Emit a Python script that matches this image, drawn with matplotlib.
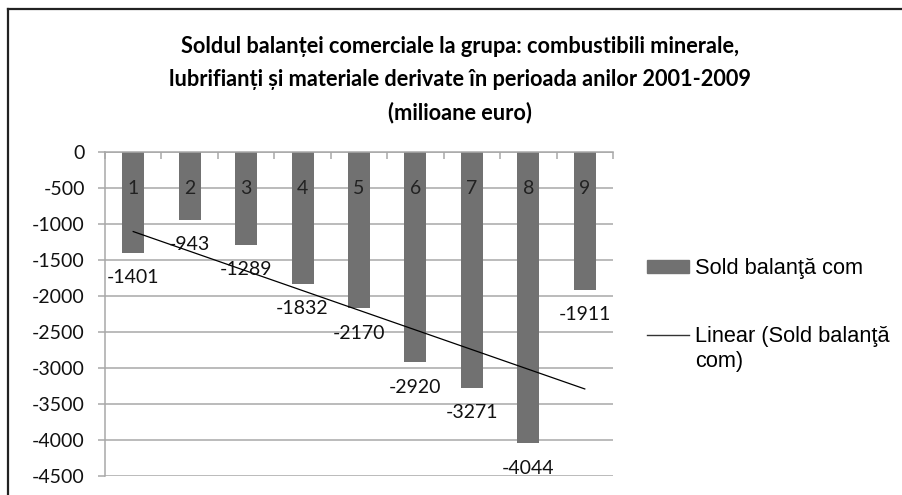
import matplotlib.pyplot as plt
import numpy as np
from matplotlib.lines import Line2D
from matplotlib.patches import Patch

# data
categories = ['1', '2', '3', '4', '5', '6', '7', '8', '9']
sold = [-1401, -943, -1289, -1832, -2170, -2920, -3271, -4044, -1911]
yticks = [0, -500, -1000, -1500, -2000, -2500, -3000, -3500, -4000, -4500]

title = ('Soldul balanței comerciale la grupa: combustibili minerale,\n'
         'lubrifianți și materiale derivate în perioada anilor 2001-2009\n'
         '(milioane euro)')
bar_label = 'Sold balanţă com'
trend_label = 'Linear (Sold balanţă\ncom)'

W, H = 903, 495
fig = plt.figure(figsize=(W / 100, H / 100), dpi=100)
ax = fig.add_axes([105 / W, 1 - 476 / H, (613 - 105) / W, (476 - 152) / H])

x = np.arange(1, len(sold) + 1)
bar_col = '#717171'
grid_col = '#a8a8a8'
font_num = 'Lato'

ax.bar(x, sold, width=0.39, color=bar_col, zorder=2)

# linear trend line
k, b = np.polyfit(x, sold, 1)
ax.plot([x[0], x[-1]], [k * x[0] + b, k * x[-1] + b], color='black', lw=0.9, zorder=3)

ax.set_xlim(0.5, len(sold) + 0.5)
ax.set_ylim(-4500, 0)
ax.set_yticks(yticks)
ax.set_yticklabels([str(v) for v in yticks], fontsize=14, family=font_num, color='#111111')
ax.yaxis.grid(True, color=grid_col, lw=1.1, zorder=0)
ax.set_axisbelow(True)

for s in ['right', 'bottom']:
    ax.spines[s].set_visible(False)
ax.spines['left'].set_color(grid_col)
ax.spines['left'].set_linewidth(1.1)
ax.spines['top'].set_color(grid_col)
ax.spines['top'].set_linewidth(1.1)

ax.tick_params(axis='y', length=5, width=1.1, color=grid_col, pad=9.4)
ax.xaxis.tick_top()
ax.set_xticks(np.arange(0.5, len(sold) + 1, 1))
ax.set_xticklabels([])
ax.tick_params(axis='x', direction='in', length=5, width=1.1, color=grid_col)

# category labels under the (top) axis
for xi, c in zip(x, categories):
    ax.annotate(c, (xi, 0), xytext=(0, -36), textcoords='offset pixels',
                ha='center', va='center', fontsize=14, family=font_num, color='#222222')

# value labels below bar ends
for xi, v in zip(x, sold):
    ax.annotate(str(v), (xi, v), xytext=(0, -25), textcoords='offset pixels',
                ha='center', va='center', fontsize=14, family=font_num, color='#111111')

fig.text(460 / W, 1 - 80 / H, title, ha='center', va='center', fontsize=15.7,
         fontweight='bold', family='Lato', linespacing=1.68)

# legend; the trend label wraps, handle stays on its first line
trend_first, trend_rest = trend_label.split('\n', 1)
leg_size = 15.7
handles = [Patch(color=bar_col), Line2D([], [], color='#333333', lw=1.0)]
leg = fig.legend(handles, [bar_label, trend_first], loc='upper left',
                 bbox_to_anchor=(647 / W, 1 - 258 / H), frameon=False,
                 prop={'family': 'Liberation Sans', 'size': leg_size},
                 handlelength=1.92, handleheight=0.55, handletextpad=0.27,
                 labelspacing=2.15, borderpad=0, borderaxespad=0)
fig.canvas.draw()
t = leg.get_texts()[1]
bb = t.get_window_extent()
fig.text(bb.x0 / W, (bb.y0 + bb.y1) / 2 / H - 25 / H, trend_rest, ha='left', va='center',
         family='Liberation Sans', size=leg_size)

# outer frame (only top and left edges are visible in the crop)
fig.add_artist(Line2D([8 / W, 8 / W], [0, 1 - 9 / H], color='#222222', lw=1.6))
fig.add_artist(Line2D([8 / W, 1], [1 - 9 / H, 1 - 9 / H], color='#222222', lw=1.6))

fig.savefig('out.png', dpi=100)
